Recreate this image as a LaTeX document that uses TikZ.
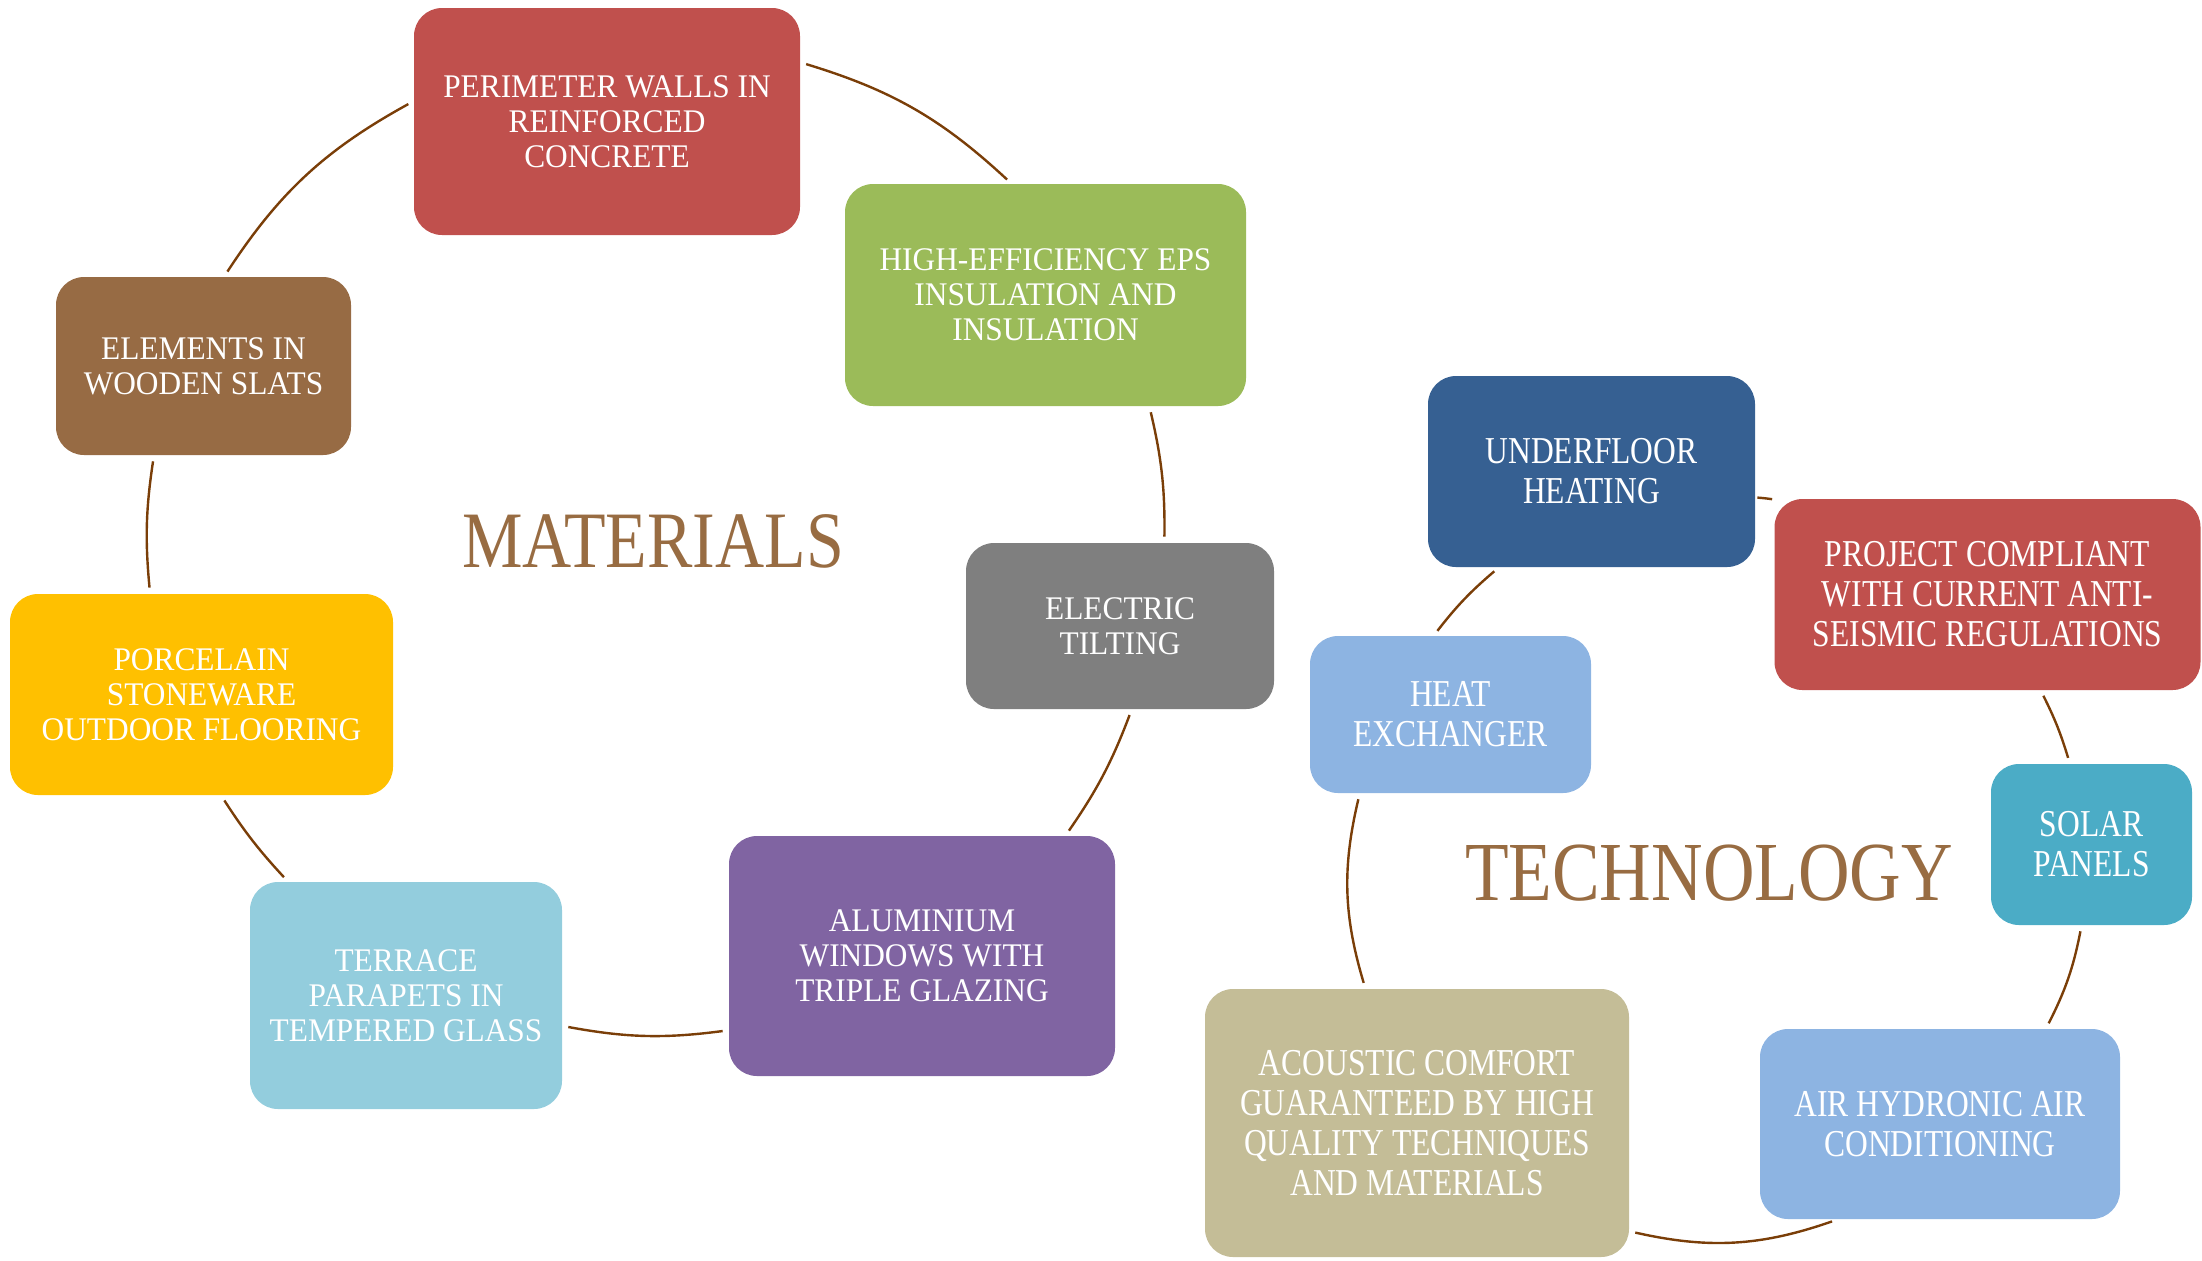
\documentclass[tikz,border=0pt]{standalone}
\usepackage{fontspec}
\setmainfont{Liberation Serif}
\newfontfamily\matfont{Liberation Serif}[FakeStretch=0.95]
\newfontfamily\techfont{Liberation Serif}[FakeStretch=0.83]
\newfontfamily\titfont{Liberation Serif}[FakeStretch=0.85]
\definecolor{cRed}{RGB}{192,80,77}
\definecolor{cGreen}{RGB}{155,187,89}
\definecolor{cWood}{RGB}{151,107,68}
\definecolor{cYellow}{RGB}{255,192,0}
\definecolor{cGray}{RGB}{127,127,127}
\definecolor{cLight}{RGB}{147,205,221}
\definecolor{cPurple}{RGB}{128,100,162}
\definecolor{cNavy}{RGB}{54,96,146}
\definecolor{cSky}{RGB}{141,180,226}
\definecolor{cTeal}{RGB}{75,172,198}
\definecolor{cTan}{RGB}{196,189,151}
\definecolor{cTitle}{RGB}{152,108,66}
\definecolor{cLine}{RGB}{122,62,8}
\tikzset{
  box/.style={rounded corners=14pt, text=white, align=center, inner sep=0pt, draw=none},
  matbox/.style={box, font=\matfont\fontsize{16.5}{17.5}\selectfont},
  techbox/.style={box, font=\techfont\fontsize{19}{20}\selectfont},
  conn/.style={draw=cLine, line width=1.2pt, shorten >=3pt, shorten <=3pt},
  titletext/.style={text=cTitle, anchor=base, inner sep=0pt}
}
\begin{document}
\begin{tikzpicture}[x=0.5pt,y=-0.5pt]
\useasboundingbox (0,0) rectangle (2202,1260);
% Materials
\node[matbox, fill=cRed, minimum width=193pt, minimum height=113.5pt] (perim) at (607,121.5) {PERIMETER WALLS IN\\REINFORCED\\CONCRETE};
\node[matbox, fill=cGreen, minimum width=200.5pt, minimum height=111pt] (eps) at (1045.5,295) {HIGH-EFFICIENCY EPS\\INSULATION AND\\INSULATION};
\node[matbox, fill=cWood, minimum width=147.5pt, minimum height=89pt] (wood) at (203.5,366) {ELEMENTS IN\\WOODEN SLATS};
\node[matbox, fill=cYellow, minimum width=191.5pt, minimum height=100.5pt] (porc) at (201.5,694.5) {PORCELAIN\\STONEWARE\\OUTDOOR FLOORING};
\node[matbox, fill=cGray, minimum width=154pt, minimum height=83pt] (elec) at (1120,626) {ELECTRIC\\TILTING};
\node[matbox, fill=cLight, minimum width=156pt, minimum height=113.5pt] (terr) at (406,995.5) {TERRACE\\PARAPETS IN\\TEMPERED GLASS};
\node[matbox, fill=cPurple, minimum width=193pt, minimum height=120pt] (alu) at (922,956) {ALUMINIUM\\WINDOWS WITH\\TRIPLE GLAZING};
% Technology
\node[techbox, fill=cNavy, minimum width=163.5pt, minimum height=95.5pt] (under) at (1591.5,471.5) {UNDERFLOOR\\HEATING};
\node[techbox, fill=cRed, minimum width=213pt, minimum height=95.5pt] (proj) at (1987.5,594.5) {PROJECT COMPLIANT\\WITH CURRENT ANTI-\\SEISMIC REGULATIONS};
\node[techbox, fill=cSky, minimum width=140.5pt, minimum height=78.5pt] (heat) at (1450.5,714.5) {HEAT\\EXCHANGER};
\node[techbox, fill=cTeal, minimum width=100.5pt, minimum height=80.5pt] (solar) at (2091.5,844.5) {SOLAR\\PANELS};
\node[techbox, fill=cTan, minimum width=212pt, minimum height=134pt] (acou) at (1417,1123) {ACOUSTIC COMFORT\\GUARANTEED BY HIGH\\QUALITY TECHNIQUES\\AND MATERIALS};
\node[techbox, fill=cSky, minimum width=180pt, minimum height=95pt] (air) at (1940,1124) {AIR HYDRONIC AIR\\CONDITIONING};
% titles
\node[titletext, font=\titfont\fontsize{40}{40}\selectfont] (mat) at (653,567) {MATERIALS};
\node[titletext, font=\titfont\fontsize{42}{42}\selectfont] (tech) at (1709,900) {TECHNOLOGY};
% connectors materials
\draw[conn] (wood.77) to[bend left=14] (perim.174);
\draw[conn] (perim.17) to[bend left=13] (eps.107.6);
\draw[conn] (eps.-47.4) to[bend left=7] (elec.62.9);
\draw[conn] (elec.-82.6) to[bend left=7] (alu.40.6);
\draw[conn] (alu.-159.9) to[bend left=9] (terr.-11.6);
\draw[conn] (terr.136) to[bend left=5] (porc.-79.2);
\draw[conn] (porc.117.3) to[bend left=7] (wood.-119.1);
% connectors technology
\draw[conn] (heat.102.3) to[bend left=6] (under.-134.7);
\draw[conn, shorten >=1pt, shorten <=1pt] (under.-9.2) to[bend left=2] (proj.156.4);
\draw[conn] (proj.-61.8) to[bend left=5] (solar.105.8);
\draw[conn] (solar.-97.3) to[bend left=8] (air.42.1);
\draw[conn] (air.-137.2) to[bend left=16] (acou.-27.6);
\draw[conn] (acou.111.3) to[bend left=15] (heat.-139.3);
\end{tikzpicture}
\end{document}
